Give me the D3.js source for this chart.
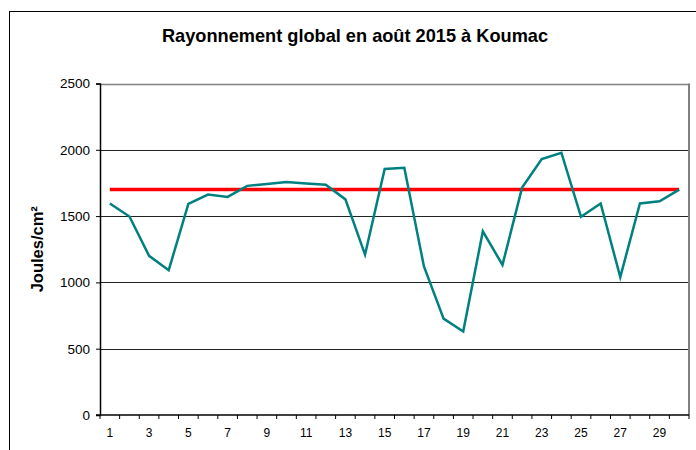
<!DOCTYPE html>
<html>
<head>
<meta charset="utf-8">
<script src="https://cdn.jsdelivr.net/npm/d3@7"></script>
<style>
  body { margin: 0; background: #fff; }
  svg { display: block; font-family: Arial, "Liberation Sans", sans-serif; }
</style>
</head>
<body>
<svg id="chart"></svg>
<script>
// daily global radiation, August 2015, Koumac
const days = d3.range(1, 31);
const radiation = [1595, 1497, 1200, 1092, 1592, 1662, 1645, 1728, 1742, 1757,
                   1745, 1736, 1626, 1210, 1855, 1865, 1120, 727, 630, 1385,
                   1132, 1715, 1930, 1978, 1495, 1595, 1040, 1595, 1612, 1700];
const reference = 1700;
const yTicks = [0, 500, 1000, 1500, 2000, 2500];
const title = 'Rayonnement global en août 2015 à Koumac';
const yLabel = 'Joules/cm²';

const width = 696;
const height = 450;
const margin = { top: 83.5, right: 7, bottom: 35, left: 100 };

const svg = d3.select('#chart')
    .attr('width', width)
    .attr('height', height);

// outer chart frame (cut by the picture edges)
svg.append('rect')
    .attr('x', 9.5).attr('y', 11.5)
    .attr('width', width + 20).attr('height', height + 20)
    .attr('fill', 'none').attr('stroke', '#000').attr('stroke-width', 1);

const x = d3.scaleBand()
    .domain(days)
    .range([margin.left, width - margin.right]);
const y = d3.scaleLinear()
    .domain([0, 2500])
    .range([height - margin.bottom, margin.top]);

const cx = d => x(d) + x.bandwidth() / 2;

// gridlines
svg.append('g')
    .selectAll('line')
    .data(yTicks.filter(t => t > 0))
    .join('line')
    .attr('x1', margin.left).attr('x2', width - margin.right)
    .attr('y1', d => Math.round(y(d)) + 0.5).attr('y2', d => Math.round(y(d)) + 0.5)
    .attr('stroke', d => d === 2500 ? '#808080' : '#222')
    .attr('stroke-width', d => d === 2500 ? 1.6 : 1);

// right side of the plot area
svg.append('line')
    .attr('x1', width - margin.right).attr('x2', width - margin.right)
    .attr('y1', y(2500)).attr('y2', y(0))
    .attr('stroke', '#808080').attr('stroke-width', 2);

// y axis
const yAxis = svg.append('g')
    .attr('transform', `translate(${margin.left},0)`)
    .call(d3.axisLeft(y).tickValues(yTicks).tickSize(4).tickPadding(6).tickFormat(d3.format('d')));
yAxis.select('.domain').attr('stroke', '#000').attr('stroke-width', 1.5);
yAxis.selectAll('.tick line').attr('stroke', '#000');
yAxis.selectAll('text').attr('font-size', 13.5).attr('fill', '#000')
    .attr('font-family', 'Arial, "Liberation Sans", sans-serif');

// x axis: ticks between categories, odd labels only
const xAxis = svg.append('g')
    .attr('transform', `translate(0,${y(0)})`);
xAxis.append('line')
    .attr('x1', margin.left - 4).attr('x2', width - margin.right)
    .attr('stroke', '#000').attr('stroke-width', 1.5);
xAxis.selectAll('line.tk')
    .data(d3.range(0, days.length + 1))
    .join('line')
    .attr('class', 'tk')
    .attr('x1', i => margin.left + i * x.bandwidth())
    .attr('x2', i => margin.left + i * x.bandwidth())
    .attr('y1', 0).attr('y2', 4)
    .attr('stroke', '#000');
xAxis.selectAll('text')
    .data(days.filter(d => d % 2 === 1))
    .join('text')
    .attr('x', d => cx(d))
    .attr('y', 21.5)
    .attr('text-anchor', 'middle')
    .attr('font-size', 12)
    .text(d => d);

// reference line
svg.append('line')
    .attr('x1', cx(days[0])).attr('x2', cx(days[days.length - 1]))
    .attr('y1', y(reference)).attr('y2', y(reference))
    .attr('stroke', '#ff0000').attr('stroke-width', 3.5);

// daily series
svg.append('path')
    .datum(radiation)
    .attr('fill', 'none')
    .attr('stroke', '#008080')
    .attr('stroke-width', 2.5)
    .attr('stroke-linejoin', 'miter')
    .attr('d', d3.line().x((d, i) => cx(days[i])).y(d => y(d)));

// title
svg.append('text')
    .attr('x', 355).attr('y', 42)
    .attr('text-anchor', 'middle')
    .attr('font-size', 18.2).attr('font-weight', 'bold')
    .text(title);

// y label
svg.append('text')
    .attr('transform', `translate(43,${(y(0) + y(2500)) / 2}) rotate(-90)`)
    .attr('text-anchor', 'middle')
    .attr('font-size', 16.5).attr('font-weight', 'bold')
    .text(yLabel);
</script>
</body>
</html>
